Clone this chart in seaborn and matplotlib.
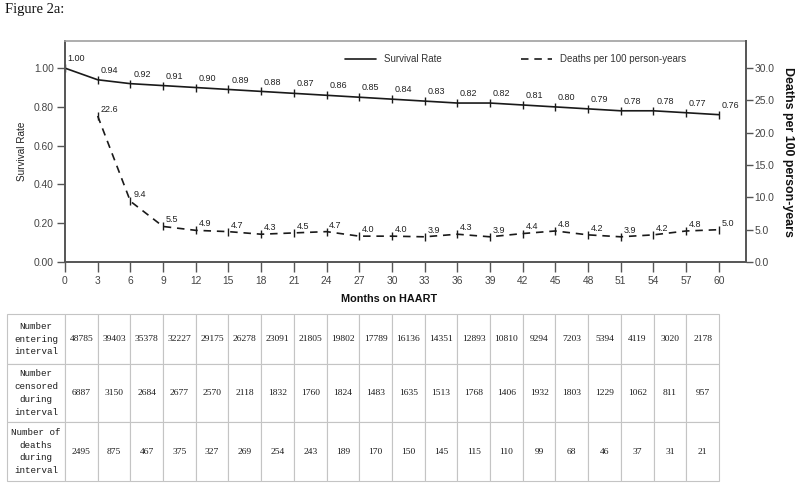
import matplotlib
matplotlib.use("Agg")
import matplotlib.pyplot as plt
from matplotlib.lines import Line2D
import seaborn as sns
import pandas as pd

# ---- data ----
months = [0, 3, 6, 9, 12, 15, 18, 21, 24, 27, 30, 33, 36, 39, 42, 45, 48, 51, 54, 57, 60]
survival = [1.00, 0.94, 0.92, 0.91, 0.90, 0.89, 0.88, 0.87, 0.86, 0.85, 0.84,
            0.83, 0.82, 0.82, 0.81, 0.80, 0.79, 0.78, 0.78, 0.77, 0.76]
death_months = [3, 6, 9, 12, 15, 18, 21, 24, 27, 30, 33, 36, 39, 42, 45, 48, 51, 54, 57, 60]
death_rate = [22.6, 9.4, 5.5, 4.9, 4.7, 4.3, 4.5, 4.7, 4.0, 4.0, 3.9, 4.3, 3.9,
              4.4, 4.8, 4.2, 3.9, 4.2, 4.8, 5.0]
row_labels = ["Number\nentering\ninterval",
              "Number\ncensored\nduring\ninterval",
              "Number of\ndeaths\nduring\ninterval"]
entering = [48785, 39403, 35378, 32227, 29175, 26278, 23091, 21805, 19802, 17789,
            16136, 14351, 12893, 10810, 9294, 7203, 5394, 4119, 3020, 2178]
censored = [6887, 3150, 2684, 2677, 2570, 2118, 1832, 1760, 1824, 1483,
            1635, 1513, 1768, 1406, 1932, 1803, 1229, 1062, 811, 957]
deaths = [2495, 875, 467, 375, 327, 269, 254, 243, 189, 170,
          150, 145, 115, 110, 99, 68, 46, 37, 31, 21]

sns.set_style("ticks")
plt.rcParams["font.family"] = ["Liberation Sans", "DejaVu Sans"]

W, H = 800, 488
fig = plt.figure(figsize=(8, 4.88), dpi=100)

fig.text(5 / W, 1 - 10 / H, "Figure 2a:", family="Liberation Serif", fontsize=10.5,
         va="center", ha="left", color="#111111")

ax = fig.add_axes([65 / W, 1 - 262 / H, (746 - 65) / W, (262 - 41) / H])
ax2 = ax.twinx()

df_s = pd.DataFrame({"month": months, "survival": survival})
df_d = pd.DataFrame({"month": death_months, "rate": death_rate})

sns.lineplot(data=df_s, x="month", y="survival", ax=ax, color="#1a1a1a", lw=1.2,
             marker="|", markersize=6, markeredgewidth=1.0, markeredgecolor="#1a1a1a")
sns.lineplot(data=df_d, x="month", y="rate", ax=ax2, color="#1a1a1a", lw=1.2,
             linestyle=(0, (4.5, 3.5)), marker="|", markersize=6,
             markeredgewidth=1.0, markeredgecolor="#1a1a1a")

ax.set_xlim(0, 62.5)
ax.set_ylim(0, 1.14)
ax2.set_ylim(0, 34.2)
ax.set_xticks(months)
ax.set_xticklabels([str(m) for m in months])
ax.set_yticks([0, 0.2, 0.4, 0.6, 0.8, 1.0])
ax.set_yticklabels(["0.00", "0.20", "0.40", "0.60", "0.80", "1.00"])
ax2.set_yticks([0, 5, 10, 15, 20, 25, 30])
ax2.set_yticklabels(["0.0", "5.0", "10.0", "15.0", "20.0", "25.0", "30.0"])

ax.tick_params(axis="y", length=6, width=1.0, pad=2, labelsize=7.4, labelcolor="#444444", color="#555555")
ax.tick_params(axis="x", length=7, width=1.0, pad=3, labelsize=7.4, labelcolor="#444444", color="#555555")
ax2.tick_params(axis="y", length=5, width=1.0, pad=1, labelsize=7.4, labelcolor="#444444", color="#555555")

for s in ["left", "bottom"]:
    ax.spines[s].set_color("#555555")
    ax.spines[s].set_linewidth(1.4)
ax.spines["top"].set_visible(True)
ax.spines["top"].set_color("#a0a0a0")
ax.spines["top"].set_linewidth(1.2)
ax.spines["right"].set_visible(False)
for s in ["left", "bottom", "top"]:
    ax2.spines[s].set_visible(False)
ax2.spines["right"].set_visible(True)
ax2.spines["right"].set_color("#555555")
ax2.spines["right"].set_linewidth(1.4)

ax.set_xlabel("Months on HAART", fontsize=7.8, fontweight="bold", color="#111111")
ax.xaxis.set_label_coords(0.476, -0.145)
ax.set_ylabel("Survival Rate", fontsize=7.2, color="#222222")
ax.yaxis.set_label_coords(-0.056, 0.5)
ax2.set_ylabel("Deaths per 100 person-years", fontsize=8.9, fontweight="bold",
               rotation=-90, color="#111111")
ax2.yaxis.set_label_coords(1.071, 0.5)

for m, v in zip(months, survival):
    ax.annotate(f"{v:.2f}", (m, v), xytext=(2, 3.5), textcoords="offset points",
                ha="left", va="bottom", fontsize=6.5, color="#222222")
for m, v in zip(death_months, death_rate):
    ax2.annotate(f"{v:.1f}", (m, v), xytext=(2, 1.5), textcoords="offset points",
                 ha="left", va="bottom", fontsize=6.5, color="#222222")

handles = [Line2D([], [], color="#1a1a1a", lw=1.2),
           Line2D([], [], color="#1a1a1a", lw=1.2, linestyle=(0, (4.5, 3.5)))]
ax.legend(handles, ["Survival Rate", "Deaths per 100 person-years"], ncol=2,
          loc="center", bbox_to_anchor=(0.6615, 0.9186), frameon=False,
          fontsize=7, handlelength=3.2, handletextpad=0.8, columnspacing=8.2,
          labelcolor="#333333")

# ---- table ----
tax = fig.add_axes([7 / W, 1 - 481 / H, (719 - 7) / W, (481 - 314) / H])
tax.axis("off")
cells = [[lab] + [str(v) for v in row] for lab, row in
         zip(row_labels, [entering, censored, deaths])]
n = len(entering)
colw = [58] + [(719 - 65) / n] * n
tbl = tax.table(cellText=cells, colWidths=[c / sum(colw) for c in colw],
                cellLoc="center", bbox=[0, 0, 1, 1])
tbl.auto_set_font_size(False)
row_h = [50, 58, 59]
for (r, c), cell in tbl.get_celld().items():
    cell.set_edgecolor("#c4c4c4")
    cell.set_linewidth(0.8)
    cell.set_height(row_h[r] / sum(row_h))
    t = cell.get_text()
    t.set_color("#1a1a1a")
    if c == 0:
        t.set_family(["Liberation Mono", "DejaVu Sans Mono"])
        t.set_fontsize(6.6)
        t.set_linespacing(1.55)
    else:
        t.set_family(["Liberation Serif", "DejaVu Serif"])
        t.set_fontsize(6.8)

fig.savefig("out.png", dpi=100)
